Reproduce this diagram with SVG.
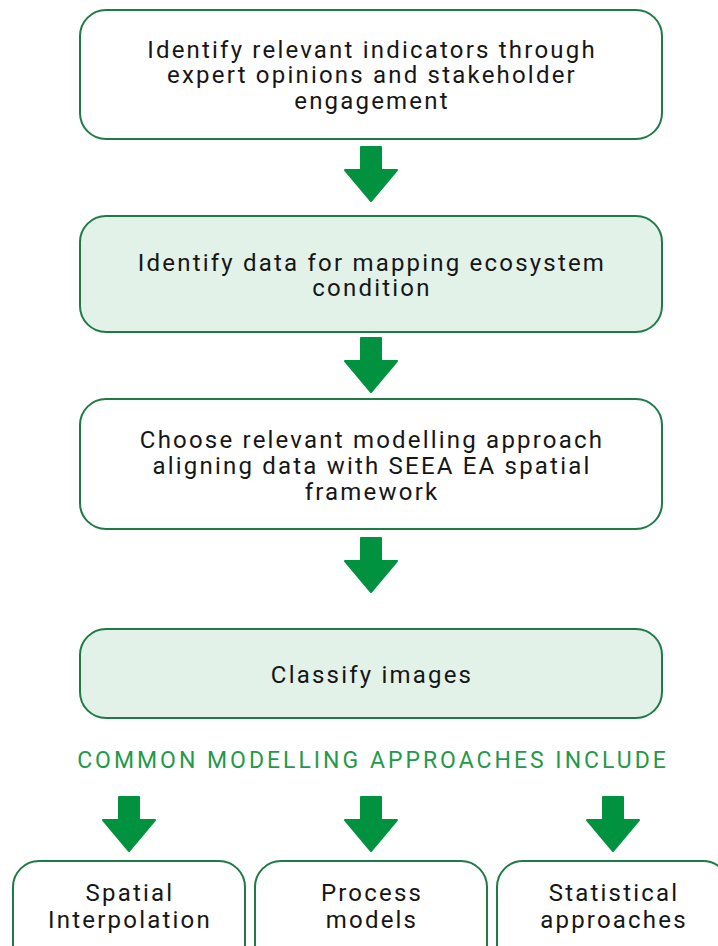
<svg xmlns="http://www.w3.org/2000/svg" width="718" height="946" viewBox="0 0 718 946">
<defs>
<style>
.box{fill:#ffffff;stroke:#1e7b46;stroke-width:2}
.fill{fill:#e2f2e9}
.t{font-family:Roboto,"Liberation Sans",sans-serif;font-size:24px;font-weight:400;letter-spacing:2.2px;fill:#161616;text-anchor:middle}
.h{font-family:Roboto,"Liberation Sans",sans-serif;font-size:23px;font-weight:400;letter-spacing:3px;fill:#1f9a4a;text-anchor:middle}
.arr{fill:#00923f;stroke:#00923f;stroke-width:2;stroke-linejoin:round}
</style>
<path id="arrow" class="arr" d="M-10,0 H10 V23 H26 L0,54 L-26,23 H-10 Z"/>
</defs>
<rect width="718" height="946" fill="#ffffff"/>
<g id="connectors">
<use href="#arrow" x="371" y="147"/>
<use href="#arrow" x="371" y="338"/>
<use href="#arrow" x="371" y="538"/>
<use href="#arrow" x="129" y="797"/>
<use href="#arrow" x="371" y="797"/>
<use href="#arrow" x="613" y="797"/>
</g>
<g id="node1">
<rect class="box" x="80" y="10" width="582" height="129" rx="26"/>
<text class="t" x="372" y="57.5">Identify relevant indicators through</text>
<text class="t" x="372" y="83">expert opinions and stakeholder</text>
<text class="t" x="372" y="108.5">engagement</text>
</g>
<g id="node2">
<rect class="box fill" x="80" y="216" width="582" height="116" rx="26"/>
<text class="t" x="372" y="270.5">Identify data for mapping ecosystem</text>
<text class="t" x="372" y="296">condition</text>
</g>
<g id="node3">
<rect class="box" x="80" y="399" width="582" height="130" rx="26"/>
<text class="t" x="372" y="448">Choose relevant modelling approach</text>
<text class="t" x="372" y="474">aligning data with SEEA EA spatial</text>
<text class="t" x="372" y="500">framework</text>
</g>
<g id="node4">
<rect class="box fill" x="80" y="629" width="582" height="89" rx="26"/>
<text class="t" x="372" y="683">Classify images</text>
</g>
<g id="heading">
<text class="h" x="373" y="768">COMMON MODELLING APPROACHES INCLUDE</text>
</g>
<g id="node5">
<rect class="box" x="13" y="861" width="232" height="110" rx="26"/>
<text class="t" x="130" y="901">Spatial</text>
<text class="t" x="130" y="928">Interpolation</text>
</g>
<g id="node6">
<rect class="box" x="255" y="861" width="232" height="110" rx="26"/>
<text class="t" x="372" y="901">Process</text>
<text class="t" x="372" y="928">models</text>
</g>
<g id="node7">
<rect class="box" x="497" y="861" width="232" height="110" rx="26"/>
<text class="t" x="614" y="901">Statistical</text>
<text class="t" x="614" y="928">approaches</text>
</g>
</svg>
